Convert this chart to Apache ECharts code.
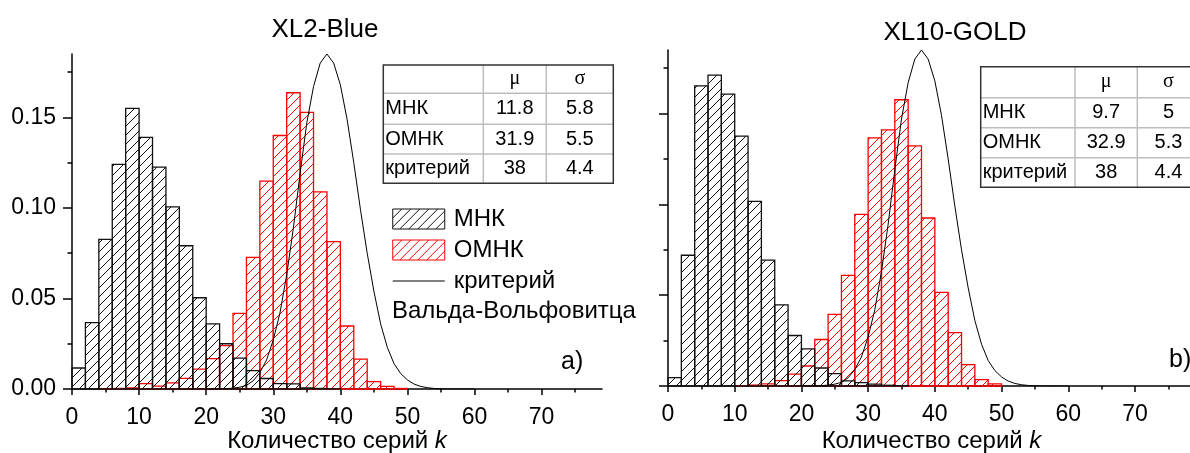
<!DOCTYPE html>
<html>
<head>
<meta charset="utf-8">
<script src="https://cdn.jsdelivr.net/npm/echarts@6.0.0/dist/echarts.min.js"></script>
<style>
  html, body { margin: 0; padding: 0; background: #fff; }
  #chart { width: 1190px; height: 453px; }
</style>
</head>
<body>
<div id="chart"></div>
<script>
// bin starts (bin width 2)
const binStarts = [0, 2, 4, 6, 8, 10, 12, 14, 16, 18, 20, 22, 24, 26, 28, 30, 32, 34, 36, 38, 40, 42, 44, 46, 48];
const binWidth = 2;

// a) XL2-Blue
const mnkA  = [0.0116, 0.0366, 0.0826, 0.124, 0.155, 0.139, 0.1225, 0.1006, 0.0791, 0.0504, 0.036, 0.025, 0.017, 0.0101, 0.0058, 0.003, 0.0028, 0.0006, 0.0003, 0.0001, 0, 0, 0, 0, 0];
const omnkA = [0, 0, 0.0002, 0.0003, 0.0006, 0.003, 0.0016, 0.0034, 0.0059, 0.011, 0.0168, 0.024, 0.0418, 0.0727, 0.1148, 0.140, 0.1636, 0.1528, 0.1089, 0.0814, 0.0348, 0.0165, 0.0041, 0.0015, 0.0003];

// b) XL10-GOLD
const mnkB  = [0.0046, 0.072, 0.1653, 0.1712, 0.1607, 0.1376, 0.1017, 0.0693, 0.0447, 0.0278, 0.0204, 0.0099, 0.0068, 0.0028, 0.0019, 0.001, 0.0004, 0.0002, 0, 0, 0, 0, 0, 0, 0];
const omnkB = [0, 0, 0, 0, 0, 0.0002, 0.0005, 0.0012, 0.003, 0.0065, 0.011, 0.0256, 0.0394, 0.0609, 0.0945, 0.1366, 0.141, 0.1576, 0.1322, 0.0925, 0.0515, 0.0294, 0.0118, 0.0035, 0.0012];

// критерий Вальда-Вольфовитца (same in both panels)
const critK   = [20, 21, 22, 23, 24, 25, 26, 27, 28, 29, 30, 31, 32, 33, 34, 35, 36, 37, 38, 39, 40, 41, 42, 43, 44, 45, 46, 47, 48, 49, 50, 51, 52, 53, 54, 55, 56, 57, 58, 59, 60];
const critVal = [0, 0, 0.0001, 0.0002, 0.0005, 0.001, 0.002, 0.0045, 0.009, 0.016, 0.027, 0.042, 0.063, 0.089, 0.119, 0.147, 0.167, 0.180, 0.185, 0.180, 0.168, 0.149, 0.125, 0.099, 0.075, 0.054, 0.036, 0.023, 0.014, 0.0085, 0.005, 0.0027, 0.0014, 0.0007, 0.0003, 0.0001, 0, 0, 0, 0, 0];

// ticks
const xMajor = [0, 10, 20, 30, 40, 50, 60, 70];
const xMinor = [5, 15, 25, 35, 45, 55, 65, 75];
const yMajor = [0, 0.05, 0.10, 0.15];
const yMinor = [0.025, 0.075, 0.125, 0.175];

// tables
const tableRows = ['МНК', 'ОМНК', 'критерий'];
const tableHead = ['', 'μ', 'σ'];
const muA = ['11.8', '31.9', '38'];
const sigmaA = ['5.8', '5.5', '4.4'];
const muB = ['9.7', '32.9', '38'];
const sigmaB = ['5', '5.3', '4.4'];

const FONT = 'Liberation Sans, Arial, sans-serif';

function hatch(color) {
  const s = 9;
  const c = document.createElement('canvas');
  c.width = s; c.height = s;
  const g = c.getContext('2d');
  g.strokeStyle = color;
  g.lineWidth = 1;
  g.beginPath();
  g.moveTo(0, s); g.lineTo(s, 0);
  g.moveTo(-1, 1); g.lineTo(1, -1);
  g.moveTo(s - 1, s + 1); g.lineTo(s + 1, s - 1);
  g.stroke();
  return { image: c, repeat: 'repeat' };
}
const patBlack = hatch('#111');
const patRed = hatch('#ff0000');

function histSeries(name, values, gi, fill, stroke, z) {
  return {
    name: name,
    type: 'custom',
    xAxisIndex: gi * 2,
    yAxisIndex: gi * 2,
    z: z,
    itemStyle: { color: fill, borderColor: stroke, borderWidth: 1 },
    data: binStarts.map((b, i) => [b, values[i]]),
    encode: { x: 0, y: 1 },
    renderItem: function (params, api) {
      const x0 = api.value(0);
      const v = api.value(1);
      if (!(v > 0)) return null;
      const p0 = api.coord([x0, v]);
      const p1 = api.coord([x0 + binWidth, 0]);
      return {
        type: 'rect',
        shape: { x: p0[0], y: p0[1], width: p1[0] - p0[0], height: p1[1] - p0[1] },
        style: { fill: fill, stroke: stroke, lineWidth: 1.3 }
      };
    }
  };
}

function critSeries(gi) {
  return {
    name: 'критерий',
    type: 'line',
    xAxisIndex: gi * 2,
    yAxisIndex: gi * 2,
    z: 5,
    symbol: 'none',
    itemStyle: { color: '#000' },
    lineStyle: { color: '#000', width: 1 },
    data: critK.map((k, i) => [k, critVal[i]])
  };
}

function xAxes(gi, nameGap) {
  return [
    {
      gridIndex: gi, type: 'value', min: 0, max: 79, position: 'bottom',
      name: '{a|Количество серий }{b|k}', nameLocation: 'middle', nameGap: nameGap,
      nameMoveOverlap: false,
      nameTextStyle: {
        rich: {
          a: { fontSize: 24, fontFamily: FONT, color: '#000' },
          b: { fontSize: 24, fontFamily: FONT, color: '#000', fontStyle: 'italic' }
        }
      },
      axisLine: { show: true, lineStyle: { color: '#000', width: 1.5 } },
      axisTick: { show: true, inside: false, length: 6, customValues: xMajor, lineStyle: { color: '#000', width: 1.5 } },
      axisLabel: { show: true, customValues: xMajor, fontSize: 23, fontFamily: FONT, color: '#000', margin: 17 },
      splitLine: { show: false }
    },
    {
      gridIndex: gi, type: 'value', min: 0, max: 79, position: 'bottom',
      axisLine: { show: false },
      axisTick: { show: true, inside: false, length: 3.5, customValues: xMinor, lineStyle: { color: '#000', width: 1.5 } },
      axisLabel: { show: false },
      splitLine: { show: false }
    }
  ];
}

function yAxes(gi, showLabels) {
  return [
    {
      gridIndex: gi, type: 'value', min: 0, max: 0.185, position: 'left',
      axisLine: { show: true, lineStyle: { color: '#000', width: 1.5 } },
      axisTick: { show: true, inside: false, length: 9, customValues: yMajor, lineStyle: { color: '#000', width: 1.5 } },
      axisLabel: {
        show: showLabels, customValues: yMajor, fontSize: 23, fontFamily: FONT, color: '#000', margin: 16,
        formatter: v => v.toFixed(2)
      },
      splitLine: { show: false }
    },
    {
      gridIndex: gi, type: 'value', min: 0, max: 0.185, position: 'left',
      axisLine: { show: false },
      axisTick: { show: true, inside: false, length: 4.5, customValues: yMinor, lineStyle: { color: '#000', width: 1.5 } },
      axisLabel: { show: false },
      splitLine: { show: false }
    }
  ];
}

function tableGraphic(x, y, colW, rowH, mus, sigmas) {
  const els = [];
  const W = colW.reduce((a, b) => a + b, 0);
  const H = rowH.reduce((a, b) => a + b, 0);
  let yy = y;
  for (let r = 1; r < rowH.length; r++) {
    yy += rowH[r - 1];
    els.push({ type: 'line', shape: { x1: x, y1: yy, x2: x + W, y2: yy }, style: { stroke: '#bdbdbd', lineWidth: 1.5 } });
  }
  let xx = x;
  for (let c = 1; c < colW.length; c++) {
    xx += colW[c - 1];
    els.push({ type: 'line', shape: { x1: xx, y1: y, x2: xx, y2: y + H }, style: { stroke: '#bdbdbd', lineWidth: 1.5 } });
  }
  els.push({ type: 'rect', shape: { x: x, y: y, width: W, height: H }, style: { fill: 'none', stroke: '#333', lineWidth: 1.5 } });

  const cx1 = x + colW[0] + colW[1] / 2;
  const cx2 = x + colW[0] + colW[1] + colW[2] / 2;
  // header
  els.push({ type: 'text', x: cx1, y: y + rowH[0] / 2, style: { text: tableHead[1], fontSize: 20, fontFamily: 'Liberation Serif, Times New Roman, serif', fill: '#000', align: 'center', verticalAlign: 'middle' } });
  els.push({ type: 'text', x: cx2, y: y + rowH[0] / 2, style: { text: tableHead[2], fontSize: 20, fontFamily: 'Liberation Serif, Times New Roman, serif', fill: '#000', align: 'center', verticalAlign: 'middle' } });
  let top = y + rowH[0];
  for (let r = 0; r < tableRows.length; r++) {
    const cy = top + rowH[r + 1] / 2;
    els.push({ type: 'text', x: x + 2, y: cy, style: { text: tableRows[r], fontSize: 20, fontFamily: FONT, fill: '#000', align: 'left', verticalAlign: 'middle' } });
    els.push({ type: 'text', x: cx1, y: cy, style: { text: mus[r], fontSize: 20, fontFamily: FONT, fill: '#000', align: 'center', verticalAlign: 'middle' } });
    els.push({ type: 'text', x: cx2, y: cy, style: { text: sigmas[r], fontSize: 20, fontFamily: FONT, fill: '#000', align: 'center', verticalAlign: 'middle' } });
    top += rowH[r + 1];
  }
  return els;
}

const chart = echarts.init(document.getElementById('chart'), null, { renderer: 'canvas' });

chart.setOption({
  backgroundColor: '#fff',
  animation: false,
  title: [
    { text: 'XL2-Blue', left: 325, top: 17, textAlign: 'center', padding: 0,
      textStyle: { fontSize: 26, fontWeight: 'normal', fontFamily: FONT, color: '#000' } },
    { text: 'XL10-GOLD', left: 955, top: 20, textAlign: 'center', padding: 0,
      textStyle: { fontSize: 26, fontWeight: 'normal', fontFamily: FONT, color: '#000' } }
  ],
  grid: [
    { left: 72, top: 54, width: 530, height: 335, containLabel: false, outerBoundsMode: 'none' },
    { left: 668, top: 50, width: 527, height: 336, containLabel: false, outerBoundsMode: 'none' }
  ],
  legend: {
    orient: 'vertical', left: 392, top: 207, padding: 0,
    itemWidth: 52, itemHeight: 20, itemGap: 7,
    selectedMode: false,
    textStyle: { fontSize: 24, fontFamily: FONT, color: '#000', padding: [0, 0, 0, 4] },
    data: [
      { name: 'МНК', icon: 'rect', itemStyle: { color: patBlack, borderColor: '#111', borderWidth: 1 } },
      { name: 'ОМНК', icon: 'rect', itemStyle: { color: patRed, borderColor: '#ff0000', borderWidth: 1 } },
      { name: 'критерий',
        itemStyle: { color: 'rgba(0,0,0,0)', borderColor: 'rgba(0,0,0,0)', borderWidth: 0 },
        lineStyle: { color: '#555', width: 1.5 } }
    ]
  },
  xAxis: [...xAxes(0, 40), ...xAxes(1, 43)],
  yAxis: [...yAxes(0, true), ...yAxes(1, false)],
  series: [
    histSeries('ОМНК', omnkA, 0, patRed, '#ff0000', 2),
    histSeries('МНК', mnkA, 0, patBlack, '#111', 3),
    critSeries(0),
    histSeries('ОМНК', omnkB, 1, patRed, '#ff0000', 2),
    histSeries('МНК', mnkB, 1, patBlack, '#111', 3),
    critSeries(1)
  ],
  graphic: [
    ...tableGraphic(383.3, 65, [100, 63, 67], [28.3, 31, 29.7, 29.3], muA, sigmaA),
    ...tableGraphic(980.7, 66.7, [94.3, 62.3, 62.3], [31, 30, 30, 29.6], muB, sigmaB),
    { type: 'text', x: 392, y: 311, style: { text: 'Вальда-Вольфовитца', fontSize: 24, fontFamily: FONT, fill: '#000', verticalAlign: 'middle' } },
    { type: 'text', x: 561, y: 362, style: { text: 'a)', fontSize: 25, fontFamily: FONT, fill: '#000', verticalAlign: 'middle' } },
    { type: 'text', x: 1169, y: 360, style: { text: 'b)', fontSize: 25, fontFamily: FONT, fill: '#000', verticalAlign: 'middle' } }
  ]
});
</script>
</body>
</html>
